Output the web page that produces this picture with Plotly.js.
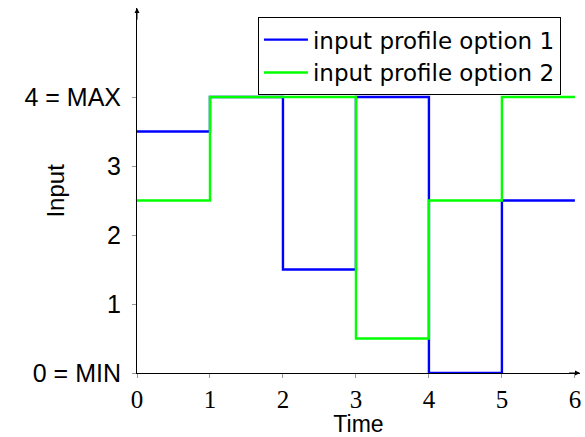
<!DOCTYPE html>
<html>
<head>
<meta charset="utf-8">
<script src="https://cdn.plot.ly/plotly-3.0.1.min.js"></script>
<style>html,body{margin:0;padding:0;background:#fff;}#chart{width:585px;height:437px;}</style>
</head>
<body>
<div id="chart"></div>
<script>
const timePoints = [0, 1, 2, 3, 4, 5, 6];
const option1 = [3.5, 4, 1.5, 4, 0, 2.5, 2.5];
const option2 = [2.5, 4, 4, 0.5, 2.5, 4, 4];
const seriesNames = ['input profile option 1', 'input profile option 2'];
const yTickVals = [0, 1, 2, 3, 4];
const yTickText = ['0 = MIN', '1', '2', '3', '4 = MAX'];
const xTickVals = [0, 1, 2, 3, 4, 5, 6];

const sans = 'Liberation Sans, Arial, sans-serif';
const legendFont = 'DejaVu Sans, Liberation Sans, sans-serif';
const serif = 'Liberation Serif, DejaVu Serif, serif';

const traces = [
  {x: timePoints, y: option1, name: seriesNames[0], mode: 'lines', line: {shape: 'hv', color: '#0000ff', width: 2.4}},
  {x: timePoints, y: option2, name: seriesNames[1], mode: 'lines', line: {shape: 'hv', color: '#00ff00', width: 2.4}}
];

const layout = {
  width: 585, height: 437,
  margin: {l: 137, r: 5, t: 8, b: 64},
  paper_bgcolor: '#fff', plot_bgcolor: '#fff',
  showlegend: true,
  legend: {x: 0.273, y: 0.975, xanchor: 'left', yanchor: 'top', bordercolor: '#000', borderwidth: 1,
           bgcolor: '#fff', font: {family: legendFont, size: 23, color: '#000'}, tracegroupgap: 0, itemwidth: 44},
  xaxis: {range: [0, 6.07], tickvals: xTickVals, showgrid: false, zeroline: false, showline: true,
          linecolor: '#000', linewidth: 1, ticks: 'outside', ticklen: 4, tickcolor: '#999',
          tickfont: {family: serif, size: 25, color: '#000'},
          title: {text: 'Time', font: {family: sans, size: 23, color: '#000'}, standoff: 2}},
  yaxis: {range: [0, 5.29], tickvals: yTickVals, ticktext: yTickText, showgrid: false, zeroline: false, showline: true,
          linecolor: '#000', linewidth: 1, ticks: 'outside', ticklen: 4, tickcolor: '#999', ticklabelstandoff: 6,
          tickfont: {family: sans, size: 25, color: '#000'}},
  annotations: [
    {x: 6.07, y: 0, ax: 5.9, ay: 0, xref: 'x', yref: 'y', axref: 'x', ayref: 'y', showarrow: true,
     arrowhead: 2, arrowsize: 1, arrowwidth: 1, arrowcolor: '#000', text: ''},
    {x: 0, y: 5.29, ax: 0, ay: 5.1, xref: 'x', yref: 'y', axref: 'x', ayref: 'y', showarrow: true,
     arrowhead: 2, arrowsize: 1, arrowwidth: 1, arrowcolor: '#000', text: ''},
    {x: -0.185, y: 0.5, xref: 'paper', yref: 'paper', showarrow: false, text: 'Input', textangle: -90,
     font: {family: sans, size: 24, color: '#000'}, xanchor: 'center', yanchor: 'middle'}
  ]
};

Plotly.newPlot('chart', traces, layout, {displayModeBar: false, staticPlot: true});
</script>
</body>
</html>
